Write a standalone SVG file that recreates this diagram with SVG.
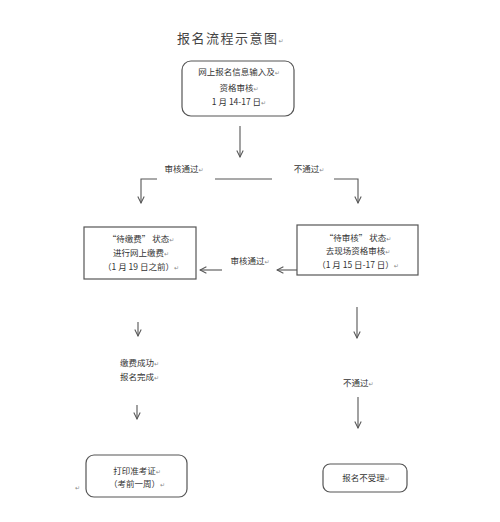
<svg xmlns="http://www.w3.org/2000/svg" width="500" height="522" viewBox="0 0 500 522">
<style>
.bg{fill:#ffffff}
.box{fill:#ffffff;stroke:#555555;stroke-width:1.2}
.t{font-family:"Noto Sans CJK SC","Noto Sans",sans-serif;font-size:8.5px;fill:#333333;text-anchor:middle}
.ts{font-family:"Noto Sans CJK SC","Noto Sans",sans-serif;font-size:8.5px;fill:#333333}
.title{font-family:"Noto Sans CJK SC","Noto Sans",sans-serif;font-size:13px;fill:#444444;letter-spacing:1.5px;text-anchor:middle}
.pm{font-family:"DejaVu Sans",sans-serif;font-size:6px;fill:#888888}
.ln{fill:none;stroke:#555555;stroke-width:1.1}
</style>
<defs>
<marker id="ah" viewBox="0 0 10 10" refX="9" refY="5" markerWidth="8" markerHeight="8" orient="auto" markerUnits="userSpaceOnUse">
<path d="M1,1 L9,5 L1,9" fill="none" stroke="#555555" stroke-width="1.3"/>
</marker>
</defs>
<rect class="bg" x="0" y="0" width="500" height="522"/>
<text class="title" x="231" y="43">报名流程示意图<tspan class="pm">↵</tspan></text>

<g id="node-online">
<rect class="box" x="182" y="61" width="112" height="55" rx="9"/>
<text class="t" x="239" y="75">网上报名信息输入及<tspan class="pm">↵</tspan></text>
<text class="t" x="239" y="91">资格审核<tspan class="pm">↵</tspan></text>
<text class="t" x="239" y="105">1 月 14-17 日<tspan class="pm">↵</tspan></text>
</g>

<g id="node-pay">
<rect class="box" x="84" y="227" width="112" height="52"/>
<text class="t" x="141" y="242">“待缴费” 状态<tspan class="pm">↵</tspan></text>
<text class="t" x="141" y="256">进行网上缴费<tspan class="pm">↵</tspan></text>
<text class="t" x="141" y="270">（1 月 19 日之前）<tspan class="pm">↵</tspan></text>
</g>

<g id="node-review">
<rect class="box" x="297" y="225" width="121" height="50"/>
<text class="t" x="358" y="241">“待审核” 状态<tspan class="pm">↵</tspan></text>
<text class="t" x="358" y="254">去现场资格审核<tspan class="pm">↵</tspan></text>
<text class="t" x="358" y="268">（1 月 15 日-17 日）<tspan class="pm">↵</tspan></text>
</g>

<g id="node-done">
<text class="ts" x="120" y="366">缴费成功<tspan class="pm">↵</tspan></text>
<text class="ts" x="120" y="380">报名完成<tspan class="pm">↵</tspan></text>
</g>

<g id="node-print">
<rect class="box" x="86" y="455" width="101" height="42" rx="8"/>
<text class="t" x="137" y="474">打印准考证<tspan class="pm">↵</tspan></text>
<text class="t" x="137" y="487">（考前一周）<tspan class="pm">↵</tspan></text>
<text class="pm" x="75" y="490">↵</text>
</g>

<g id="node-reject">
<rect class="box" x="323" y="464" width="84" height="28" rx="7"/>
<text class="t" x="366" y="481">报名不受理<tspan class="pm">↵</tspan></text>
</g>

<g id="connectors">
<line class="ln" x1="240" y1="126" x2="240" y2="157" marker-end="url(#ah)"/>
<text class="t" x="184" y="172">审核通过<tspan class="pm">↵</tspan></text>
<text class="t" x="309" y="172">不通过<tspan class="pm">↵</tspan></text>
<polyline class="ln" points="157,179 141,179 141,203" marker-end="url(#ah)"/>
<line class="ln" x1="215" y1="179" x2="272" y2="179"/>
<polyline class="ln" points="334,179 358,179 358,203" marker-end="url(#ah)"/>
<line class="ln" x1="222" y1="270" x2="200" y2="270" marker-end="url(#ah)"/>
<text class="t" x="250" y="264">审核通过<tspan class="pm">↵</tspan></text>
<line class="ln" x1="297" y1="270" x2="277" y2="270" marker-end="url(#ah)"/>
<line class="ln" x1="138" y1="322" x2="138" y2="336" marker-end="url(#ah)"/>
<line class="ln" x1="137" y1="405" x2="137" y2="419" marker-end="url(#ah)"/>
<line class="ln" x1="357" y1="307" x2="357" y2="338" marker-end="url(#ah)"/>
<text class="ts" x="343" y="386">不通过<tspan class="pm">↵</tspan></text>
<line class="ln" x1="358" y1="397" x2="358" y2="428" marker-end="url(#ah)"/>
</g>
</svg>
